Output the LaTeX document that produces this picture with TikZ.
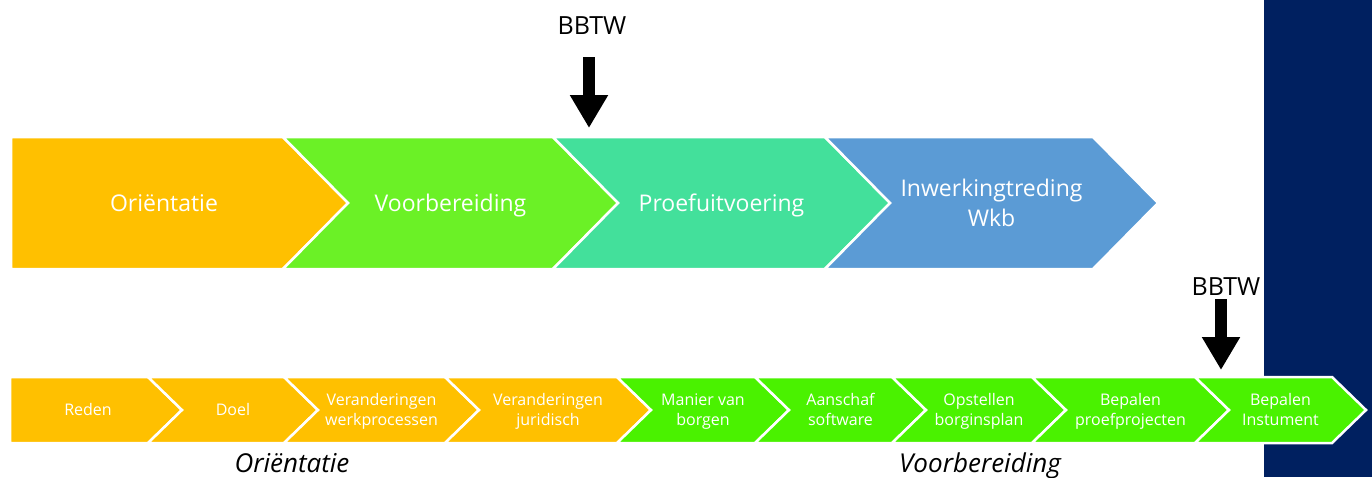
\documentclass[tikz,border=0pt]{standalone}
\usepackage{fontspec}
\setmainfont{Open Sans}
\usetikzlibrary{arrows.meta}

\definecolor{oranje}{HTML}{FFC000}
\definecolor{groen}{HTML}{6BF126}
\definecolor{turkoois}{HTML}{43E09B}
\definecolor{blauw}{HTML}{5B9BD5}
\definecolor{felgroen}{HTML}{4AF200}
\definecolor{marine}{HTML}{002060}

\begin{document}
\begin{tikzpicture}[x=1pt,y=-1pt,% pixel units, y downwards
        fase/.style={fill=#1,draw=white,line width=2.5pt,line join=miter},
        fasetekst/.style={text=white,align=center,inner sep=0pt,text height=16.5pt,text depth=0pt,font=\fontsize{23}{30}\selectfont},
        staptekst/.style={text=white,align=center,inner sep=0pt,text height=11.5pt,text depth=0pt,font=\fontsize{16}{20}\selectfont},
        groeptekst/.style={anchor=base,font=\fontsize{26}{30}\selectfont\itshape},
        bbtwpijl/.style={line width=12pt,-{Triangle[width=36pt,length=33pt]}}]
\useasboundingbox (0,0) rectangle (1372,477);
\fill[marine] (1264,0) rectangle (1372,477); % dark band on the right

% top row: the four phases (\n = number of text lines)
\foreach[count=\i] \l/\r/\col/\n/\txt in {11/283/oranje/1/Oriëntatie,283/553/groen/1/Voorbereiding,553/825/turkoois/1/Proefuitvoering,825/1093/blauw/2/{Inwerkingtreding\\Wkb}}{
\ifnum\i=1
 \draw[fase=\col] (\l,137) -- (\r,137) -- ++(65,66) -- (\r,269) -- (\l,269) -- cycle;
 \pgfmathsetmacro\tx{(\l+\r)/2+17}
\else
 \draw[fase=\col] (\l,137) -- (\r,137) -- ++(65,66) -- (\r,269) -- (\l,269) -- ++(65,-66) -- cycle;
 \pgfmathsetmacro\tx{(\l+\r+65)/2}
\fi
\pgfmathsetmacro\ty{203+(\n-1)*15}
\node[fasetekst] (fase-\i) at (\tx,\ty) {\txt};
}

% bottom row: the steps
\foreach[count=\i] \l/\r/\col/\n/\txt in {10/148/oranje/1/Reden,148/284/oranje/1/Doel,284/445/oranje/2/{Veranderingen\\werkprocessen},445/617/oranje/2/{Veranderingen\\juridisch},617/755/felgroen/2/{Manier van\\borgen},755/892/felgroen/2/{Aanschaf\\software},892/1032/felgroen/2/{Opstellen\\borginsplan},1032/1195/felgroen/2/{Bepalen\\proefprojecten},1195/1332/felgroen/2/{Bepalen\\Instument}}{
\ifnum\i=1
 \draw[fase=\col] (\l,377) -- (\r,377) -- ++(34,33) -- (\r,443) -- (\l,443) -- cycle;
 \pgfmathsetmacro\tx{(\l+\r)/2+9}
\else
 \draw[fase=\col] (\l,377) -- (\r,377) -- ++(34,33) -- (\r,443) -- (\l,443) -- ++(34,-33) -- cycle;
 \pgfmathsetmacro\tx{(\l+\r+34)/2}
\fi
\pgfmathsetmacro\ty{410+(\n-1)*10}
\node[staptekst] (stap-\i) at (\tx,\ty) {\txt};
}

% group labels
\node[groeptekst] (orient) at (292,472) {Oriëntatie};
\node[groeptekst] (voorb) at (980,472) {Voorbereiding};

% BBTW markers
\node[anchor=base,font=\fontsize{25}{28}\selectfont] (bbtw1) at (592,34) {BBTW};
\coordinate (raak1) at (589,128);
\draw[bbtwpijl,shorten <=23pt] (bbtw1.base -| raak1) -- (raak1);

\node[anchor=base,font=\fontsize{25}{28}\selectfont] (bbtw2) at (1226,295) {BBTW};
\coordinate (raak2) at (1221,370);
\draw[bbtwpijl,shorten <=4pt] (bbtw2.base -| raak2) -- (raak2);

\end{tikzpicture}
\end{document}
